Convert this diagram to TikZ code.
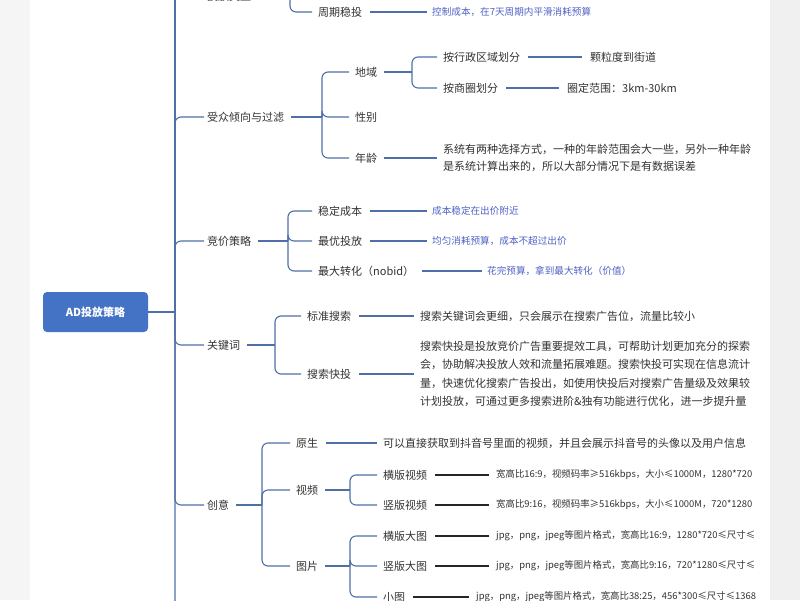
\documentclass[tikz,border=0pt]{standalone}
\usepackage{fontspec}
\setmainfont{Noto Sans CJK SC}
\begin{document}
\begin{tikzpicture}[x=1pt,y=-1pt,
  conn/.style={draw=lc,line width=1.1pt,rounded corners=6pt},
  blk/.style={draw=black!85,line width=1.6pt},
  t/.style={anchor=west,inner sep=3pt,font=\fontsize{11}{12}\selectfont,text=black!80},
  n/.style={anchor=west,inner sep=3pt,font=\fontsize{9.6}{10}\selectfont,text=nc},
  s/.style={anchor=west,inner sep=3pt,font=\fontsize{9.4}{10}\selectfont,text=black!80}]
\definecolor{lc}{HTML}{4E6FA8}
\definecolor{nc}{HTML}{4F62C4}
\definecolor{mb}{HTML}{4472C4}
\useasboundingbox (0,0) rectangle (800,600);
\begin{scope}
\clip (0,0) rectangle (800,600);
\fill[white] (0,0) rectangle (800,600);
% root
\node[fill=mb,rounded corners=4pt,minimum width=105pt,minimum height=40pt,text=white,font=\fontsize{11}{13}\selectfont\bfseries] (root) at (95.5,312) {AD投放策略};
% level 1
\node[t] (l0) at (204,-4) {投放类型};
\node[t] (l1) at (204,117) {受众倾向与过滤};
\node[t] (l2) at (204,241) {竞价策略};
\node[t] (l3) at (204,345) {关键词};
\node[t] (l4) at (204,505) {创意};
\coordinate (l5) at (208,640);
\coordinate (tr) at (175,312);
\draw[conn] (root.east) -- (tr);
\foreach \c in {l0,l1,l2,l3,l4} \draw[conn] (tr) |- (\c.west);
\draw[conn] (tr) |- (l5);
\draw[conn] (tr) -- (175,-30);
% 投放类型
\node[t] (a1) at (315,12) {周期稳投};
\coordinate (ab) at (290,-30);
\draw[conn] (ab) |- ([xshift=-3pt]a1.west);
\node[n] (a1n) at (429,12) {控制成本，在7天周期内平滑消耗预算};
\draw[conn] ([xshift=5pt]a1.east) -- ([xshift=-2pt]a1n.west);
% 受众
\node[t] (b1) at (352,72) {地域};
\node[t] (b2) at (352,117) {性别};
\node[t] (b3) at (352,158) {年龄};
\coordinate (bb) at (322,117);
\draw[conn] ([xshift=4pt]l1.east) -- (bb);
\foreach \c in {b1,b2,b3} \draw[conn] (bb) |- ([xshift=-3pt]\c.west);
\node[t] (c1) at (440,57) {按行政区域划分};
\node[t] (c2) at (440,88) {按商圈划分};
\coordinate (cb) at (412,72);
\draw[conn] ([xshift=4pt]b1.east) -- (cb);
\foreach \c in {c1,c2} \draw[conn] (cb) |- ([xshift=-3pt]\c.west);
\node[t] (c1n) at (587,57) {颗粒度到街道};
\node[t] (c2n) at (564,88) {圈定范围：3km-30km};
\draw[conn] ([xshift=5pt]c1.east) -- ([xshift=-5pt]c1n.west);
\draw[conn] ([xshift=5pt]c2.east) -- ([xshift=-5pt]c2n.west);
\node[t,align=left,text width=360pt,font=\fontsize{11}{17}\selectfont] (b3n) at (440,158) {系统有两种选择方式，一种的年龄范围会大一些，另外一种年龄\\是系统计算出来的，所以大部分情况下是有数据误差};
\draw[conn] ([xshift=4pt]b3.east) -- ([xshift=-3pt]b3n.west);
% 竞价
\node[t] (d1) at (315,211) {稳定成本};
\node[t] (d2) at (315,241) {最优投放};
\node[t] (d3) at (315,271) {最大转化（nobid）};
\coordinate (db) at (288,241);
\draw[conn] ([xshift=4pt]l2.east) -- (db);
\foreach \c in {d1,d2,d3} \draw[conn] (db) |- ([xshift=-3pt]\c.west);
\node[n] (d1n) at (429,211) {成本稳定在出价附近};
\node[n] (d2n) at (429,241) {均匀消耗预算，成本不超过出价};
\node[n] (d3n) at (484,271) {花完预算，拿到最大转化（价值）};
\foreach \a/\b in {d1/d1n,d2/d2n,d3/d3n} \draw[conn] ([xshift=5pt]\a.east) -- ([xshift=-2pt]\b.west);
% 关键词
\node[t] (e1) at (304,316) {标准搜索};
\node[t] (e2) at (304,374) {搜索快投};
\coordinate (eb) at (275,345);
\draw[conn] ([xshift=4pt]l3.east) -- (eb);
\foreach \c in {e1,e2} \draw[conn] (eb) |- ([xshift=-3pt]\c.west);
\node[t] (e1n) at (417,316) {搜索关键词会更细，只会展示在搜索广告位，流量比较小};
\node[t,align=left,text width=400pt,font=\fontsize{11}{18.3}\selectfont] (e2n) at (417,374) {搜索快投是投放竞价广告重要提效工具，可帮助计划更加充分的探索\\会，协助解决投放人效和流量拓展难题。搜索快投可实现在信息流计\\量，快速优化搜索广告投出，如使用快投后对搜索广告量级及效果较\\计划投放，可通过更多搜索进阶\&独有功能进行优化，进一步提升量};
\draw[conn] ([xshift=5pt]e1.east) -- ([xshift=-3pt]e1n.west);
\draw[conn] ([xshift=5pt]e2.east) -- ([xshift=-3pt]e2n.west);
% 创意
\node[t] (f1) at (293,443) {原生};
\node[t] (f2) at (293,490) {视频};
\node[t] (f3) at (293,566) {图片};
\coordinate (fb) at (262,505);
\draw[conn] ([xshift=4pt]l4.east) -- (fb);
\foreach \c in {f1,f2,f3} \draw[conn] (fb) |- ([xshift=-3pt]\c.west);
\node[t] (f1n) at (380,443) {可以直接获取到抖音号里面的视频，并且会展示抖音号的头像以及用户信息};
\draw[conn] ([xshift=5pt]f1.east) -- ([xshift=-3pt]f1n.west);
\node[t] (g1) at (380,475) {横版视频};
\node[t] (g2) at (380,505) {竖版视频};
\coordinate (gb) at (350,490);
\draw[conn] ([xshift=4pt]f2.east) -- (gb);
\foreach \c in {g1,g2} \draw[conn] (gb) |- ([xshift=-3pt]\c.west);
\node[t] (h1) at (380,536) {横版大图};
\node[t] (h2) at (380,566) {竖版大图};
\node[t] (h3) at (380,597) {小图};
\coordinate (hb) at (350,566);
\draw[conn] ([xshift=4pt]f3.east) -- (hb);
\foreach \c in {h1,h2,h3} \draw[conn] (hb) |- ([xshift=-3pt]\c.west);
\node[s] (g1n) at (493,475) {宽高比16:9，视频码率≥516kbps，大小≤1000M，1280*720};
\node[s] (g2n) at (493,505) {宽高比9:16，视频码率≥516kbps，大小≤1000M，720*1280};
\node[s] (h1n) at (493,536) {jpg，png，jpeg等图片格式，宽高比16:9，1280*720≤尺寸≤};
\node[s] (h2n) at (493,566) {jpg，png，jpeg等图片格式，宽高比9:16，720*1280≤尺寸≤};
\node[s] (h3n) at (473,597) {jpg，png，jpeg等图片格式，宽高比38:25，456*300≤尺寸≤1368};
\foreach \a/\b in {g1/g1n,g2/g2n,h1/h1n,h2/h2n,h3/h3n} \draw[blk] ([xshift=5pt]\a.east) -- ([xshift=-4pt]\b.west);
% side margins
\fill[black!6] (770,0) rectangle (800,600);
\fill[black!4] (0,0) rectangle (30,600);
\end{scope}
\end{tikzpicture}
\end{document}
